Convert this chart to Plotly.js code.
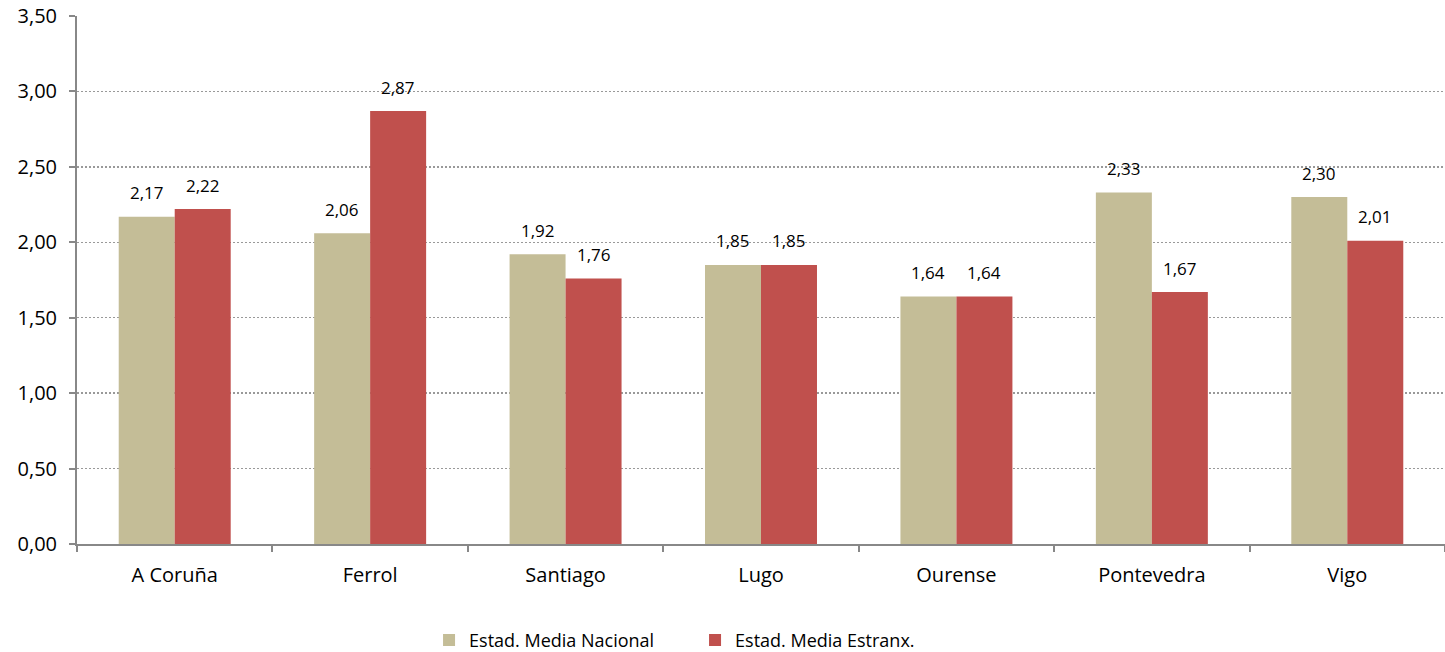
<!DOCTYPE html>
<html><head><meta charset="utf-8">
<script src="https://cdn.plot.ly/plotly-3.0.1.min.js"></script>
<style>html,body{margin:0;padding:0;background:#fff}#chart{width:1445px;height:652px}</style>
</head><body><div id="chart"></div>
<script>
const categories = ["A Coruña","Ferrol","Santiago","Lugo","Ourense","Pontevedra","Vigo"];
const nacional = [2.17,2.06,1.92,1.85,1.64,2.33,2.30];
const estranx = [2.22,2.87,1.76,1.85,1.64,1.67,2.01];
const seriesNames = ["Estad. Media Nacional","Estad. Media Estranx."];
const yTicks = [0,0.5,1,1.5,2,2.5,3,3.5];

const fmt = v => v.toFixed(2).replace('.', ',');
const FONT = "Open Sans, sans-serif";

const traces = [
  {type:'bar', x:categories, y:nacional, name:seriesNames[0], marker:{color:'#C4BD97'}, hoverinfo:'skip'},
  {type:'bar', x:categories, y:estranx, name:seriesNames[1], marker:{color:'#C0504D'}, hoverinfo:'skip'}
];
const annotations = [];
categories.forEach((c,i)=>{
  annotations.push({x:c, y:nacional[i], text:fmt(nacional[i]), showarrow:false, xshift:-28, yshift:24, font:{family:FONT,size:17,color:'#000'}});
  annotations.push({x:c, y:estranx[i], text:fmt(estranx[i]), showarrow:false, xshift:28, yshift:24, font:{family:FONT,size:17,color:'#000'}});
});

const layout = {
  width:1445, height:652,
  margin:{l:77, r:0, t:16, b:108, autoexpand:false},
  paper_bgcolor:'#fff', plot_bgcolor:'#fff',
  separators:',.',
  barmode:'group', bargap:0.427, bargroupgap:0,
  font:{family:FONT, size:20, color:'#000'},
  xaxis:{type:'category', automargin:false, showline:true, linecolor:'#888', linewidth:2, ticks:'outside', tickson:'boundaries', ticklen:6, tickcolor:'#888', tickwidth:2, showgrid:false, tickfont:{family:FONT,size:20,color:'#000'}, ticklabelstandoff:12, range:[-0.5,6.5]},
  yaxis:{range:[0,3.5], automargin:false, tickvals:yTicks, ticktext:yTicks.map(fmt), showline:true, linecolor:'#888', linewidth:2, ticks:'outside', ticklen:6, tickcolor:'#888', tickwidth:2, showgrid:true, gridcolor:'#999', griddash:'2px,2px', gridwidth:1.5, zeroline:false, tickfont:{family:FONT,size:20,color:'#000'}, ticklabelstandoff:8},
  legend:{orientation:'h', xref:'container', yref:'container', x:0.481, xanchor:'center', y:0.018, yanchor:'middle', font:{family:FONT,size:18,color:'#000'}, itemwidth:30, entrywidth:221, entrywidthmode:'pixels', traceorder:'normal'},
  annotations:annotations,
  showlegend:true
};
Plotly.newPlot('chart', traces, layout, {displayModeBar:false, staticPlot:true});
</script></body></html>
